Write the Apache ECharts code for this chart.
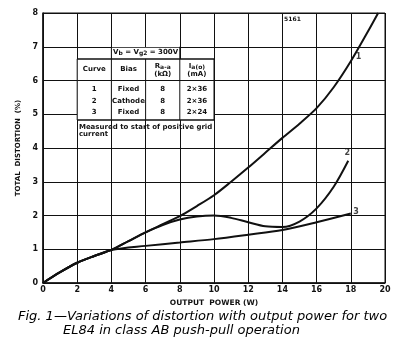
<!DOCTYPE html>
<html>
<head>
<meta charset="utf-8">
<script src="https://cdn.jsdelivr.net/npm/echarts@6/dist/echarts.min.js"></script>
<style>
  html, body { margin: 0; padding: 0; background: #fff; }
  #chart { width: 405px; height: 351px; }
</style>
</head>
<body>
<div id="chart"></div>
<script>
// ---- data ----
const xTicks = [0, 2, 4, 6, 8, 10, 12, 14, 16, 18, 20];
const yTicks = [0, 1, 2, 3, 4, 5, 6, 7, 8];

const curve1X = [0, 1, 2, 3, 4, 5, 6, 7, 8, 9, 10, 11, 12, 13, 14, 15, 16, 17, 18, 19, 19.6];
const curve1Y = [0, 0.32, 0.6, 0.8, 0.98, 1.24, 1.5, 1.74, 1.98, 2.28, 2.6, 3.0, 3.42, 3.86, 4.3, 4.72, 5.18, 5.8, 6.57, 7.45, 8.0];

const curve2X = [0, 1, 2, 3, 4, 5, 6, 7, 8, 9, 10, 11, 12, 13, 14, 15, 16, 17, 17.85];
const curve2Y = [0, 0.32, 0.6, 0.8, 0.98, 1.24, 1.5, 1.72, 1.88, 1.97, 2.0, 1.93, 1.8, 1.68, 1.66, 1.82, 2.21, 2.85, 3.62];

const curve3X = [0, 1, 2, 3, 4, 6, 8, 10, 12, 14, 16, 18];
const curve3Y = [0, 0.32, 0.6, 0.8, 0.98, 1.1, 1.2, 1.3, 1.43, 1.57, 1.8, 2.06];

const curveNames = ['1', '2', '3'];
const curveLabelX = [18.45, 17.8, 18.3];
const curveLabelY = [6.7, 3.85, 2.1];

const tableHeader = ['Curve', 'Bias', 'R', 'I'];
const tableCurve = ['1', '2', '3'];
const tableBias = ['Fixed', 'Cathode', 'Fixed'];
const tableRaa = ['8', '8', '8'];
const tableIa = ['2×36', '2×36', '2×24'];

const xName = 'OUTPUT  POWER (W)';
const yName = 'TOTAL  DISTORTION  (%)';
const figNote = '5161';
const captionLine1 = 'Fig. 1—Variations of distortion with output power for two';
const captionLine2 = 'EL84 in class AB push-pull operation';

// ---- chart ----
const chart = echarts.init(document.getElementById('chart'), null, { renderer: 'canvas' });
const zip = (xs, ys) => xs.map((x, i) => [x, ys[i]]);
const FONT = 'DejaVu Sans';
const INK = '#111';

const curveStyle = {
  type: 'line', showSymbol: false, symbol: 'none', smooth: 0.3,
  lineStyle: { color: INK, width: 2 }, z: 5, animation: false
};

chart.setOption({
  animation: false,
  backgroundColor: '#fff',
  grid: { left: 43, right: 20, top: 13, bottom: 68, show: true, borderColor: INK, borderWidth: 1 },
  xAxis: {
    type: 'value', min: 0, max: 20, interval: 2,
    name: xName, nameLocation: 'middle', nameGap: 15,
    nameTextStyle: { fontFamily: FONT, fontSize: 7.5, color: INK, fontWeight: 'bold' },
    axisLine: { show: true, lineStyle: { color: INK, width: 1.5 } },
    axisTick: { show: false },
    axisLabel: { margin: 3, fontFamily: FONT, fontSize: 8, color: INK, fontWeight: 'bold',
      formatter: v => xTicks.includes(v) ? String(v) : '' },
    splitLine: { show: true, lineStyle: { color: INK, width: 1 } }
  },
  yAxis: {
    type: 'value', min: 0, max: 8, interval: 1,
    name: yName, nameLocation: 'middle', nameGap: 16, nameRotate: 90,
    nameTextStyle: { fontFamily: FONT, fontSize: 7, color: INK, fontWeight: 'bold' },
    axisLine: { show: true, lineStyle: { color: INK, width: 1.5 } },
    axisTick: { show: false },
    axisLabel: { margin: 5, fontFamily: FONT, fontSize: 8, color: INK, fontWeight: 'bold',
      formatter: v => yTicks.includes(v) ? String(v) : '' },
    splitLine: { show: true, lineStyle: { color: INK, width: 1 } }
  },
  series: [
    Object.assign({ name: 'Curve 1', data: zip(curve1X, curve1Y) }, curveStyle),
    Object.assign({ name: 'Curve 2', data: zip(curve2X, curve2Y) }, curveStyle),
    Object.assign({ name: 'Curve 3', data: zip(curve3X, curve3Y) }, curveStyle),
    {
      type: 'scatter', name: 'labels', symbolSize: 1, itemStyle: { color: 'rgba(0,0,0,0)' },
      data: curveNames.map((n, i) => [curveLabelX[i], curveLabelY[i], n]),
      label: { show: true, position: 'inside', formatter: p => p.value[2],
        fontFamily: FONT, fontSize: 8, fontWeight: 'bold', color: INK },
      z: 6
    }
  ]
});

// ---- table / annotations placed in data coordinates ----
const P = (x, y) => chart.convertToPixel({ gridIndex: 0 }, [x, y]);
const g = [];
const txt = (x, y, text, opt) => {
  const p = P(x, y);
  g.push(Object.assign({ type: 'text', x: p[0], y: p[1], z: 102,
    style: Object.assign({ text, fill: INK, font: 'bold 7px ' + FONT, textAlign: 'center', textVerticalAlign: 'middle' }, opt || {}) }));
};
const line = (x1, y1, x2, y2, w) => {
  const a = P(x1, y1), b = P(x2, y2);
  g.push({ type: 'line', z: 101, shape: { x1: a[0], y1: a[1], x2: b[0], y2: b[1] }, style: { stroke: INK, lineWidth: w || 1 } });
};

const tTop = 6.64, tHead = 6.0, tBot = 4.83;
const cols = [2, 4, 6, 8, 10];
{
  const a = P(cols[0], tTop), b = P(cols[4], tBot);
  g.push({ type: 'rect', z: 100, shape: { x: a[0], y: a[1], width: b[0] - a[0], height: b[1] - a[1] }, style: { fill: '#fff' } });
  const c = P(4, 7), d = P(8, tTop);
  g.push({ type: 'rect', z: 100, shape: { x: c[0], y: c[1] + 1, width: d[0] - c[0], height: d[1] - c[1] - 1 }, style: { fill: '#fff' } });
}
line(cols[0], tTop, cols[4], tTop, 1.5);
line(cols[0], tBot, cols[4], tBot, 1.5);
line(cols[0], tHead, cols[4], tHead, 1);
cols.forEach(c => line(c, tTop, c, tBot, 1));
line(4, 7, 4, tTop, 1); line(8, 7, 8, tTop, 1);

{
  const p = P(6, 6.85);
  g.push({ type: 'text', x: p[0], y: p[1], z: 102, style: {
    text: '{a|V}{s|b}{a| = V}{s|g2}{a| = 300V}',
    textAlign: 'center', textVerticalAlign: 'middle',
    rich: { a: { font: 'bold 7px ' + FONT, fill: INK }, s: { font: 'bold 6px ' + FONT, fill: INK, padding: [4, 0, 0, 0] } }
  } });
}
txt(3, 6.35, tableHeader[0]);
txt(5, 6.35, tableHeader[1]);
{
  const p = P(7, 6.42);
  g.push({ type: 'text', x: p[0], y: p[1], z: 102, style: { text: '{a|R}{s|a-a}', textAlign: 'center', textVerticalAlign: 'middle',
    rich: { a: { font: 'bold 7px ' + FONT, fill: INK }, s: { font: 'bold 6px ' + FONT, fill: INK, padding: [3, 0, 0, 0] } } } });
  const q = P(9, 6.42);
  g.push({ type: 'text', x: q[0], y: q[1], z: 102, style: { text: '{a|I}{s|a(o)}', textAlign: 'center', textVerticalAlign: 'middle',
    rich: { a: { font: 'bold 7px ' + FONT, fill: INK }, s: { font: 'bold 6px ' + FONT, fill: INK, padding: [3, 0, 0, 0] } } } });
}
txt(7, 6.2, '(kΩ)');
txt(9, 6.2, '(mA)');
const rowY = [5.73, 5.38, 5.05];
rowY.forEach((ry, i) => {
  txt(3, ry, tableCurve[i]);
  txt(5, ry, tableBias[i]);
  txt(7, ry, tableRaa[i]);
  txt(9, ry, tableIa[i]);
});
txt(2.1, 4.63, 'Measured to start of positive grid', { textAlign: 'left' });
txt(2.1, 4.42, 'current', { textAlign: 'left' });
txt(14.1, 7.8, figNote, { textAlign: 'left', font: 'bold 6px ' + FONT });

// caption
g.push({ type: 'text', left: 18, top: 310, z: 102, style: { text: captionLine1, fill: '#000', font: 'oblique 13px "DejaVu Sans"' } });
g.push({ type: 'text', left: 63, top: 324, z: 102, style: { text: captionLine2, fill: '#000', font: 'oblique 13px "DejaVu Sans"' } });

chart.setOption({ graphic: g });
</script>
</body>
</html>
